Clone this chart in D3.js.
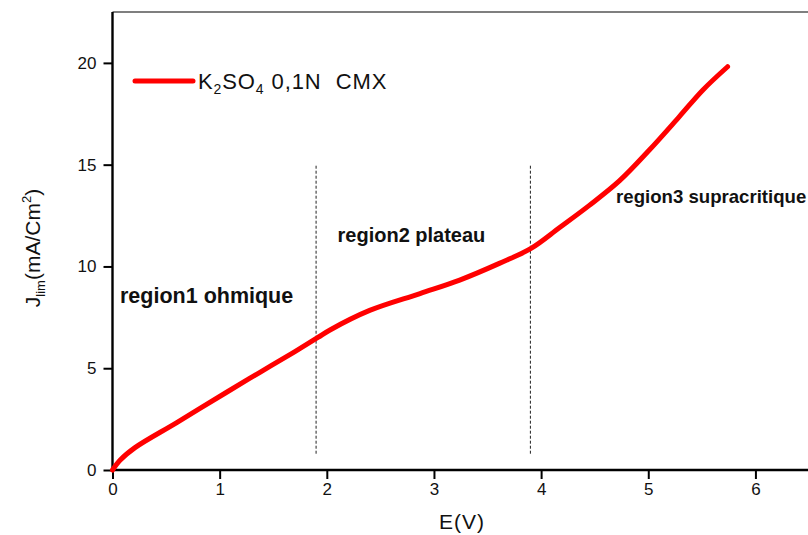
<!DOCTYPE html>
<html>
<head>
<meta charset="utf-8">
<script src="https://cdn.jsdelivr.net/npm/d3@7"></script>
<style>
  body { margin: 0; background: #fff; }
  svg { display: block; font-family: Arial, "Liberation Sans", sans-serif; }
</style>
</head>
<body>
<svg></svg>
<script>
const size = {w: 808, h: 535};
const margin = {t: 12, r: -1, b: 65, l: 112.5};

// curve
const potential = [0, 0.07, 0.21, 0.6, 1.065, 1.376, 1.687, 1.917, 2.03, 2.4, 2.87, 3.24, 3.61, 3.91, 4.17, 4.45, 4.73, 5.01, 5.29, 5.51, 5.74];
const current = [0, 0.48, 1.1, 2.33, 3.82, 4.8, 5.77, 6.51, 6.88, 7.84, 8.67, 9.33, 10.15, 10.9, 11.9, 13.0, 14.2, 15.72, 17.36, 18.67, 19.81];

const xTicks = [0, 1, 2, 3, 4, 5, 6];
const yTicks = [0, 5, 10, 15, 20];
const boundaries = [1.9, 3.9];   // dashed separators
const boundaryRange = [0.8, 15];
const regions = [
    {label: 'region1 ohmique', e: 0.07, j: 8.2, size: 21.5},
    {label: 'region2 plateau', e: 2.1, j: 11.2, size: 20},
    {label: 'region3 supracritique', e: 4.7, j: 13.1, size: 18.6}
];

const svg = d3.select('svg')
    .attr('width', size.w)
    .attr('height', size.h);

const x = d3.scaleLinear()
    .domain([0, 6.5])
    .range([margin.l, size.w - margin.r]);
const y = d3.scaleLinear()
    .domain([0, 22.5])
    .range([size.h - margin.b, margin.t]);

// top frame line
svg.append('line')
    .attr('x1', x(0)).attr('x2', size.w)
    .attr('y1', y(22.5)).attr('y2', y(22.5))
    .attr('stroke', '#000').attr('stroke-width', 1.2);

// minor + major ticks
const xAxisG = svg.append('g').attr('transform', `translate(0,${y(0)})`);
xAxisG.call(d3.axisBottom(x).tickValues(d3.range(0.5, 6.5, 1)).tickSize(5).tickFormat(''));
xAxisG.call(d3.axisBottom(x).tickValues(xTicks).tickSize(9).tickPadding(4).tickFormat(d3.format('d')));

const yAxisG = svg.append('g').attr('transform', `translate(${x(0)},0)`);
yAxisG.call(d3.axisLeft(y).tickValues([2.5, 7.5, 12.5, 17.5, 22.5]).tickSize(5).tickFormat(''));
yAxisG.call(d3.axisLeft(y).tickValues(yTicks).tickSize(9).tickPadding(7).tickFormat(d3.format('d')));

svg.selectAll('.domain').attr('stroke-width', 2.4);
xAxisG.selectAll('.domain').attr('d', `M${x(0)},0H${size.w}`);
yAxisG.selectAll('.domain').attr('d', `M0,${y(0)}V${y(22.5)}`);
svg.selectAll('.tick line').attr('stroke-width', 2);
svg.selectAll('.tick text').attr('font-size', 17).attr('fill', '#111')
    .attr('font-family', 'Arial, "Liberation Sans", sans-serif');

// dashed region separators
svg.selectAll('line.sep')
    .data(boundaries)
    .join('line')
    .classed('sep', true)
    .attr('x1', d => x(d)).attr('x2', d => x(d))
    .attr('y1', y(boundaryRange[0])).attr('y2', y(boundaryRange[1]))
    .attr('stroke', '#222')
    .attr('stroke-width', 1)
    .attr('stroke-dasharray', '3,2');

// the curve
const line = d3.line()
    .x((d, i) => x(potential[i]))
    .y(d => y(d))
    .curve(d3.curveCatmullRom.alpha(0.5));

svg.append('path')
    .datum(current)
    .attr('d', line)
    .attr('fill', 'none')
    .attr('stroke', '#ff0000')
    .attr('stroke-width', 5)
    .attr('stroke-linecap', 'round')
    .attr('stroke-linejoin', 'round');

// region labels
svg.selectAll('text.region')
    .data(regions)
    .join('text')
    .classed('region', true)
    .attr('x', d => x(d.e))
    .attr('y', d => y(d.j))
    .attr('font-size', d => d.size)
    .attr('font-weight', 'bold')
    .attr('fill', '#111')
    .text(d => d.label);

// legend
const legendG = svg.append('g');
legendG.append('line')
    .attr('x1', 135).attr('x2', 193)
    .attr('y1', 81).attr('y2', 81)
    .attr('stroke', '#ff0000')
    .attr('stroke-width', 5)
    .attr('stroke-linecap', 'round');
const legText = legendG.append('text')
    .attr('x', 198).attr('y', 89)
    .attr('font-size', 22)
    .attr('letter-spacing', 0.9)
    .attr('fill', '#111');
legText.append('tspan').text('K');
legText.append('tspan').attr('font-size', 14).attr('dy', 5).text('2');
legText.append('tspan').attr('dy', -5).text('SO');
legText.append('tspan').attr('font-size', 14).attr('dy', 5).text('4');
legText.append('tspan').attr('dy', -5).attr('xml:space', 'preserve').text(' 0,1N  CMX');

// axis titles
svg.append('text')
    .attr('x', 462).attr('y', 529)
    .attr('text-anchor', 'middle')
    .attr('font-size', 21)
    .attr('letter-spacing', 1)
    .attr('fill', '#111')
    .text('E(V)');

const yTitle = svg.append('text')
    .attr('transform', 'translate(40,248) rotate(-90)')
    .attr('text-anchor', 'middle')
    .attr('font-size', 21)
    .attr('fill', '#111');
yTitle.append('tspan').text('J');
yTitle.append('tspan').attr('font-size', 13).attr('dy', 5).text('lim');
yTitle.append('tspan').attr('dy', -5).text('(mA/Cm');
yTitle.append('tspan').attr('font-size', 13).attr('dy', -9).text('2');
yTitle.append('tspan').attr('dy', 9).text(')');
</script>
</body>
</html>
